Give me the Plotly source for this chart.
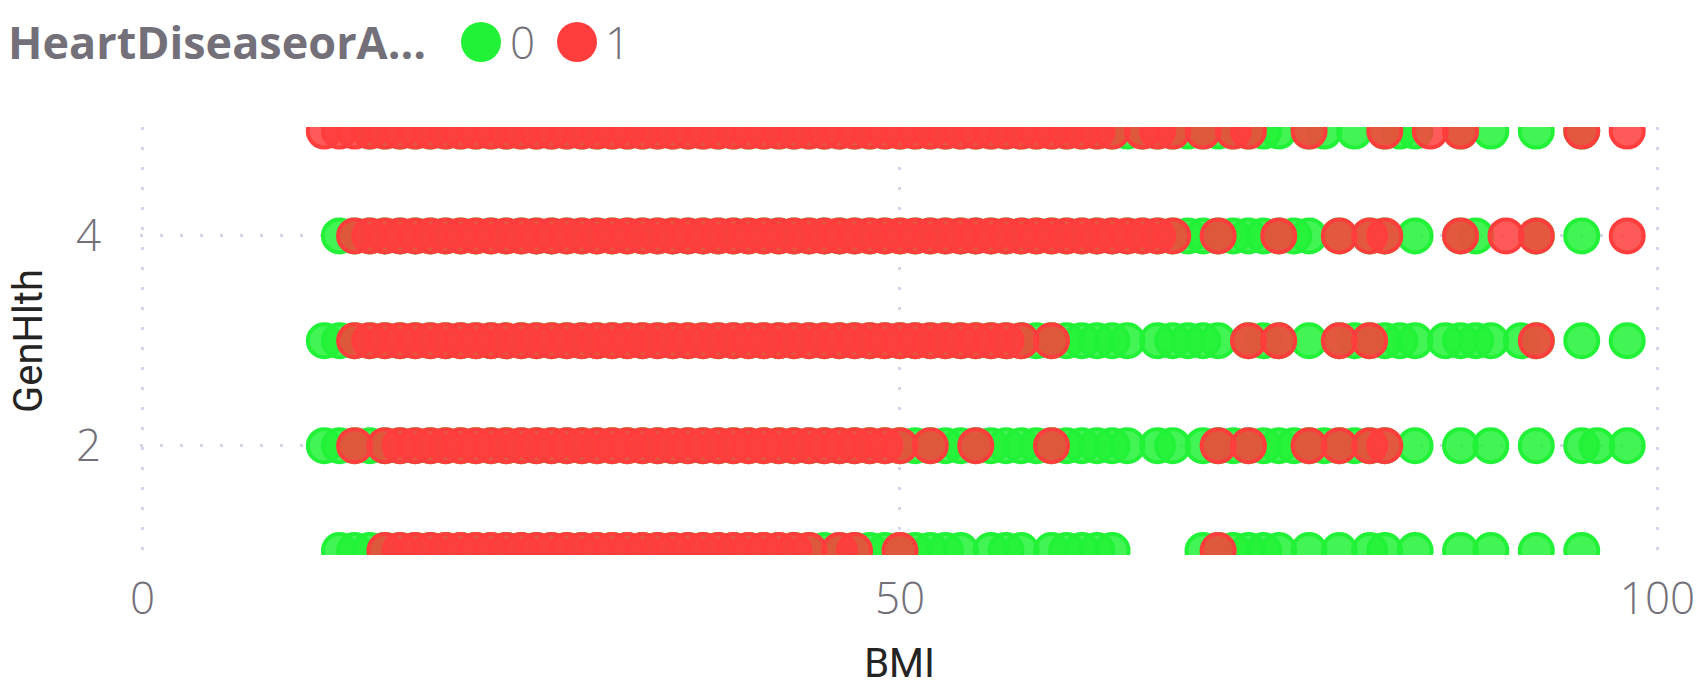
import plotly.graph_objects as go

# BMI values with at least one respondent, per GenHlth row and HeartDiseaseorAttack class
genhlth_rows = [1, 2, 3, 4, 5]
bmi_class0 = {
    1: [13,14,15,16,17,18,19,20,21,22,23,24,25,26,27,28,29,30,31,32,33,34,35,36,37,38,39,40,41,42,43,44,45,46,47,48,49,50,51,52,53,54,56,57,58,60,61,62,63,64,70,71,72,73,74,75,77,79,81,82,84,87,89,92,95],
    2: [12,13,14,15,16,17,18,19,20,21,22,23,24,25,26,27,28,29,30,31,32,33,34,35,36,37,38,39,40,41,42,43,44,45,46,47,48,49,50,51,52,53,54,55,56,57,58,59,60,61,62,63,64,65,67,68,70,71,72,73,74,75,76,77,78,79,80,81,82,84,87,89,92,95,96,98],
    3: [12,13,14,15,16,17,18,19,20,21,22,23,24,25,26,27,28,29,30,31,32,33,34,35,36,37,38,39,40,41,42,43,44,45,46,47,48,49,50,51,52,53,54,55,56,57,58,59,60,61,62,63,64,65,67,68,69,70,71,73,74,75,77,79,80,81,82,83,84,86,87,88,89,91,92,95,98],
    4: [13,14,15,16,17,18,19,20,21,22,23,24,25,26,27,28,29,30,31,32,33,34,35,36,37,38,39,40,41,42,43,44,45,46,47,48,49,50,51,52,53,54,55,56,57,58,59,60,61,62,63,64,65,66,67,68,69,70,71,72,73,74,75,76,77,79,81,82,84,87,88,92,95],
    5: [15,16,17,18,19,20,21,22,23,24,25,26,27,28,29,30,31,32,33,34,35,36,37,38,39,40,41,42,43,44,45,46,47,48,49,50,51,52,53,54,55,56,57,58,59,60,61,62,63,64,65,66,67,68,69,70,71,72,73,74,75,77,78,80,82,83,84,87,89,92,95],
}
bmi_class1 = {
    1: [16,17,18,19,20,21,22,23,24,25,26,27,28,29,30,31,32,33,34,35,36,37,38,39,40,41,42,43,44,46,47,50,71],
    2: [14,16,17,18,19,20,21,22,23,24,25,26,27,28,29,30,31,32,33,34,35,36,37,38,39,40,41,42,43,44,45,46,47,48,49,50,52,55,60,71,73,77,79,81,82],
    3: [14,15,16,17,18,19,20,21,22,23,24,25,26,27,28,29,30,31,32,33,34,35,36,37,38,39,40,41,42,43,44,45,46,47,48,49,50,51,52,53,54,55,56,57,58,60,73,75,79,81,92],
    4: [14,15,16,17,18,19,20,21,22,23,24,25,26,27,28,29,30,31,32,33,34,35,36,37,38,39,40,41,42,43,44,45,46,47,48,49,50,51,52,53,54,55,56,57,58,59,60,61,62,63,64,65,66,67,68,71,75,79,81,82,87,90,92,98],
    5: [12,13,14,15,16,17,18,19,20,21,22,23,24,25,26,27,28,29,30,31,32,33,34,35,36,37,38,39,40,41,42,43,44,45,46,47,48,49,50,51,52,53,54,55,56,57,58,59,60,61,62,63,64,66,67,68,70,72,73,77,82,85,87,95,98],
}
x_ticks = [0, 50, 100]
y_ticks = [2, 4]

W, H = 1706, 688
L, R, T, B = 140, 1659, 127, 555
GREEN, GREEN_FILL = "#22F237", "rgba(34,242,55,0.85)"
RED, RED_FILL = "#FF3D3D", "rgba(255,61,61,0.85)"
GRID = "#D4D4EA"
TICK = "#73707A"
TITLE = "#252423"


def flatten(table):
    xs, ys = [], []
    for row in genhlth_rows:
        xs += table[row]
        ys += [row] * len(table[row])
    return xs, ys


fig = go.Figure()
for name, table, fill, line in [("0", bmi_class0, GREEN_FILL, GREEN), ("1", bmi_class1, RED_FILL, RED)]:
    xs, ys = flatten(table)
    fig.add_trace(go.Scatter(
        x=xs, y=ys, mode="markers", name=name, showlegend=False,
        marker=dict(size=33, color=fill, line=dict(color=line, width=4)),
    ))


def px(x):
    return (x - L) / (R - L)


def py(y):
    return (B - y) / (B - T)


shapes = []
for cx, col in [(481, GREEN), (577, RED)]:
    shapes.append(dict(type="circle", xref="paper", yref="paper",
                       x0=px(cx - 20), x1=px(cx + 20), y0=py(62), y1=py(22),
                       fillcolor=col, line=dict(width=0)))

annotations = [
    dict(text="<b>HeartDiseaseorA...</b>", x=px(6), y=py(42), xanchor="left",
         font=dict(family="Open Sans", size=45, color=TICK)),
    dict(text="0", x=px(522), y=py(42), xanchor="center",
         font=dict(family="Open Sans", size=44, weight=300, color=TICK)),
    dict(text="1", x=px(617), y=py(42), xanchor="center",
         font=dict(family="Open Sans", size=44, weight=300, color=TICK)),
]
for a in annotations:
    a.update(xref="paper", yref="paper", yanchor="middle", showarrow=False)

tickfont = dict(family="Open Sans", size=44, weight=300, color=TICK)
titlefont = dict(family="Roboto", size=40, color=TITLE)

fig.update_layout(
    width=W, height=H, autosize=False,
    margin=dict(l=L, r=W - R, t=T, b=H - B, pad=0),
    paper_bgcolor="white", plot_bgcolor="white",
    shapes=shapes, annotations=annotations, showlegend=False,
    xaxis=dict(range=[-0.165, 100.1], tickvals=x_ticks, showline=False, zeroline=False,
               showgrid=True, gridcolor=GRID, gridwidth=3, griddash="3px,17px",
               ticks="", tickfont=tickfont, ticklabelstandoff=14,
               title=dict(text="BMI", font=titlefont, standoff=22)),
    yaxis=dict(range=[0.957, 5.039], tickvals=y_ticks, showline=False, zeroline=False,
               showgrid=True, gridcolor=GRID, gridwidth=3, griddash="3px,17px",
               ticks="", tickfont=tickfont, ticklabelstandoff=38,
               title=dict(text="GenHlth", font=titlefont, standoff=20)),
)

fig.write_html("out.html", post_script="document.body.style.margin='0';",
               config={"displayModeBar": False})
